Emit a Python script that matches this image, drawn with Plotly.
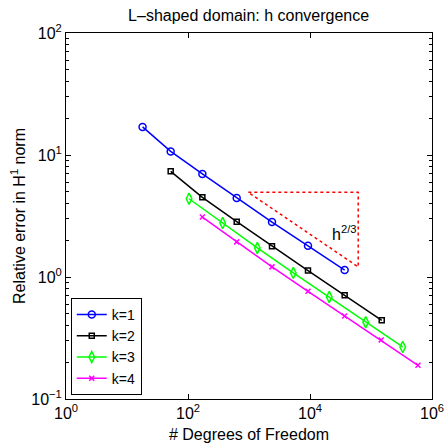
import plotly.graph_objects as go

dof_k1 = [18, 52, 172, 629, 2383, 9270, 37000]
err_k1 = [17.0, 10.7, 7.0, 4.44, 2.82, 1.80, 1.14]
dof_k2 = [52, 172, 629, 2383, 9270, 37000, 150000]
err_k2 = [7.35, 4.5, 2.84, 1.79, 1.13, 0.708, 0.442]
dof_k3 = [104, 370, 1370, 5330, 20700, 81800, 331000]
err_k3 = [4.38, 2.77, 1.73, 1.08, 0.686, 0.426, 0.267]
dof_k4 = [172, 629, 2383, 9270, 37000, 147000, 589000]
err_k4 = [3.1, 1.94, 1.21, 0.764, 0.479, 0.305, 0.189]

tri_x = [975, 61700, 61700, 975]
tri_y = [4.94, 4.94, 1.21, 4.94]

xticks = [1, 100, 1e4, 1e6]
xticklabels = ["10<sup>0</sup>", "10<sup>2</sup>", "10<sup>4</sup>", "10<sup>6</sup>"]
yticks = [0.1, 1, 10, 100]
yticklabels = ["10<sup>−1</sup>", "10<sup>0</sup>", "10<sup>1</sup>", "10<sup>2</sup>"]

series = [
    ("k=1", dof_k1, err_k1, "#0000ff", "circle-open", 7),
    ("k=2", dof_k2, err_k2, "#000000", "square-open", 5),
    ("k=3", dof_k3, err_k3, "#00ff00", "diamond-tall-open", 8),
    ("k=4", dof_k4, err_k4, "#ff00ff", "x-thin-open", 5),
]

fig = go.Figure()
for name, x, y, c, sym, sz in series:
    fig.add_trace(go.Scatter(
        x=x, y=y, name=name, mode="lines+markers",
        line=dict(color=c, width=1.5),
        marker=dict(symbol=sym, size=sz, color=c, line=dict(color=c, width=1.5)),
    ))

fig.add_trace(go.Scatter(
    x=tri_x, y=tri_y, mode="lines", showlegend=False,
    line=dict(color="#ff0000", width=1.5, dash="dot"), hoverinfo="skip",
))

fig.add_annotation(x=4.55, y=0.36, xref="x", yref="y", text="h<sup>2/3</sup>",
                   showarrow=False, font=dict(size=16, color="black"))

axis_common = dict(
    type="log", showline=True, linecolor="black", linewidth=1, mirror="allticks",
    ticks="inside", ticklen=5, tickcolor="black", showgrid=False, zeroline=False,
    tickfont=dict(size=16, color="black"), automargin=False, ticklabeloverflow="allow",
)

fig.update_xaxes(**axis_common, range=[0, 6], tickvals=xticks, ticktext=xticklabels,
                 title=dict(text="# Degrees of Freedom", font=dict(size=16, color="black"), standoff=7))
fig.update_yaxes(**axis_common, range=[-1, 2], tickvals=yticks, ticktext=yticklabels,
                 minor=dict(ticks="inside", ticklen=3, tickcolor="black",
                            tickvals=[a * b for b in [0.1, 1, 10] for a in range(2, 10)]),
                 title=dict(text="Relative error in H<sup>1</sup> norm", font=dict(size=16, color="black"), standoff=1))

fig.update_layout(
    width=444, height=444,
    margin=dict(l=66, r=12, t=33, b=45),
    paper_bgcolor="white", plot_bgcolor="white",
    font=dict(family="Liberation Sans, Arial, sans-serif", color="black"),
    title=dict(text="L–shaped domain: h convergence", x=0.56, xanchor="center", y=0.978, yanchor="top",
               font=dict(size=16, color="black")),
    legend=dict(x=0.013, y=0.011, xanchor="left", yanchor="bottom",
                bordercolor="black", borderwidth=1, bgcolor="white",
                font=dict(size=14, color="black"), tracegroupgap=0, itemwidth=30),
    showlegend=True,
)

fig.write_html("out.html")
